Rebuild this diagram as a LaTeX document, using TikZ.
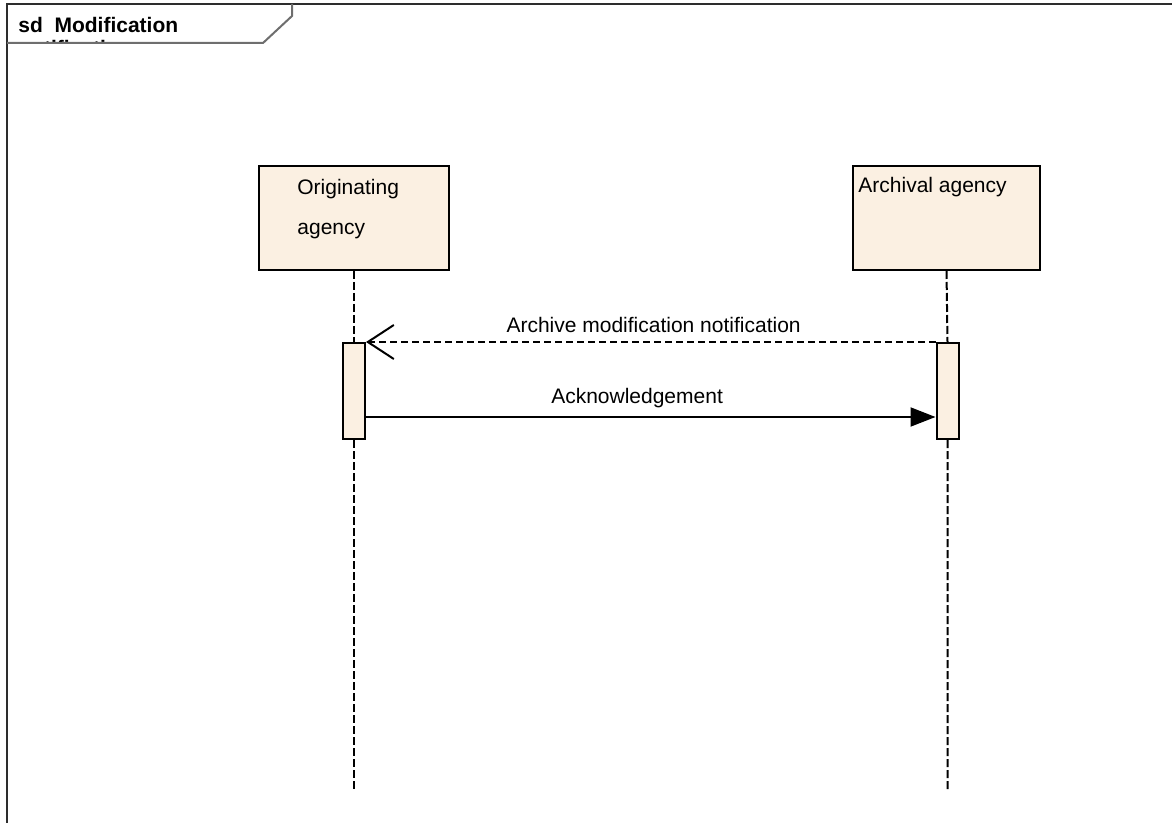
\documentclass[tikz,border=0pt]{standalone}
\usepackage{fontspec}
\setmainfont{Liberation Sans}
\usetikzlibrary{arrows.meta,positioning}
\definecolor{lifefill}{RGB}{251,240,226}
\definecolor{framegray}{RGB}{45,45,45}
\definecolor{tabgray}{RGB}{110,110,110}
\tikzset{
  lifebox/.style={draw,line width=1pt,fill=lifefill,inner sep=0pt,minimum height=52pt},
  actbox/.style={draw,line width=1pt,fill=lifefill,inner sep=0pt,minimum width=11pt,minimum height=48pt},
  boxtext/.style={inner sep=0pt,anchor=north west,align=left,font=\fontsize{10.5}{20}\selectfont},
  lifeline/.style={line width=1pt,dash pattern=on 4pt off 1.5pt},
  msg/.style={line width=1pt},
  msglabel/.style={inner sep=0pt,above=4pt,font=\fontsize{10.5}{12}\selectfont}
}
\begin{document}
\begin{tikzpicture}[x=0.5pt,y=-0.5pt]
				\useasboundingbox (0,0) rectangle (1172,823);
				% frame and tab
				\draw[framegray,line width=1pt] (1172,4)--(7,4)--(7,823);
				\begin{scope}
				\clip (7,4)--(292,4)--(292,16)--(263,43)--(7,43)--cycle;
				\node[inner sep=0pt,anchor=north west,align=left,font=\bfseries\fontsize{10.5}{11.5}\selectfont] (title) at (18,17) {sd\ \ Modification\\notification};
				\end{scope}
				\draw[tabgray,line width=1pt] (7,43)--(263,43)--(292,16)--(292,4);
				% lifelines
				\node[lifebox,minimum width=95pt] (orig) at (354,218) {};
				\node[lifebox,minimum width=93.5pt] (arch) at (946.5,218) {};
				\node[boxtext] (origtext) at ([xshift=19.5pt,yshift=-7pt]orig.north west) {Originating\\agency};
				\node[boxtext] (archtext) at ([xshift=3pt,yshift=-6pt]arch.north west) {Archival agency};
				\node[actbox] (origact) at (354,391) {};
				\node[actbox] (archact) at (947.5,391) {};
				\path (354,791) coordinate (origend)
				(947.5,791) coordinate (archend);
				\foreach \x in {orig,arch}
				\draw[lifeline] (\x.south)--(\x act.north) (\x act.south)--(\x end);
				% messages
				\draw[msg,dash pattern=on 3.5pt off 2pt,-{Straight Barb[length=13pt,width=17pt,line width=1pt]}] (archact.north west)--(origact.north east)
				node[msglabel,pos=0.495] (notif) {Archive modification notification};
				\draw[msg,-{Triangle[length=12.5pt,width=9.5pt]}] (origact.east |- 0,417) coordinate (ackstart)--(archact.west |- ackstart)
				node[msglabel,pos=0.476] (ack) {Acknowledgement};
			\end{tikzpicture}
\end{document}
